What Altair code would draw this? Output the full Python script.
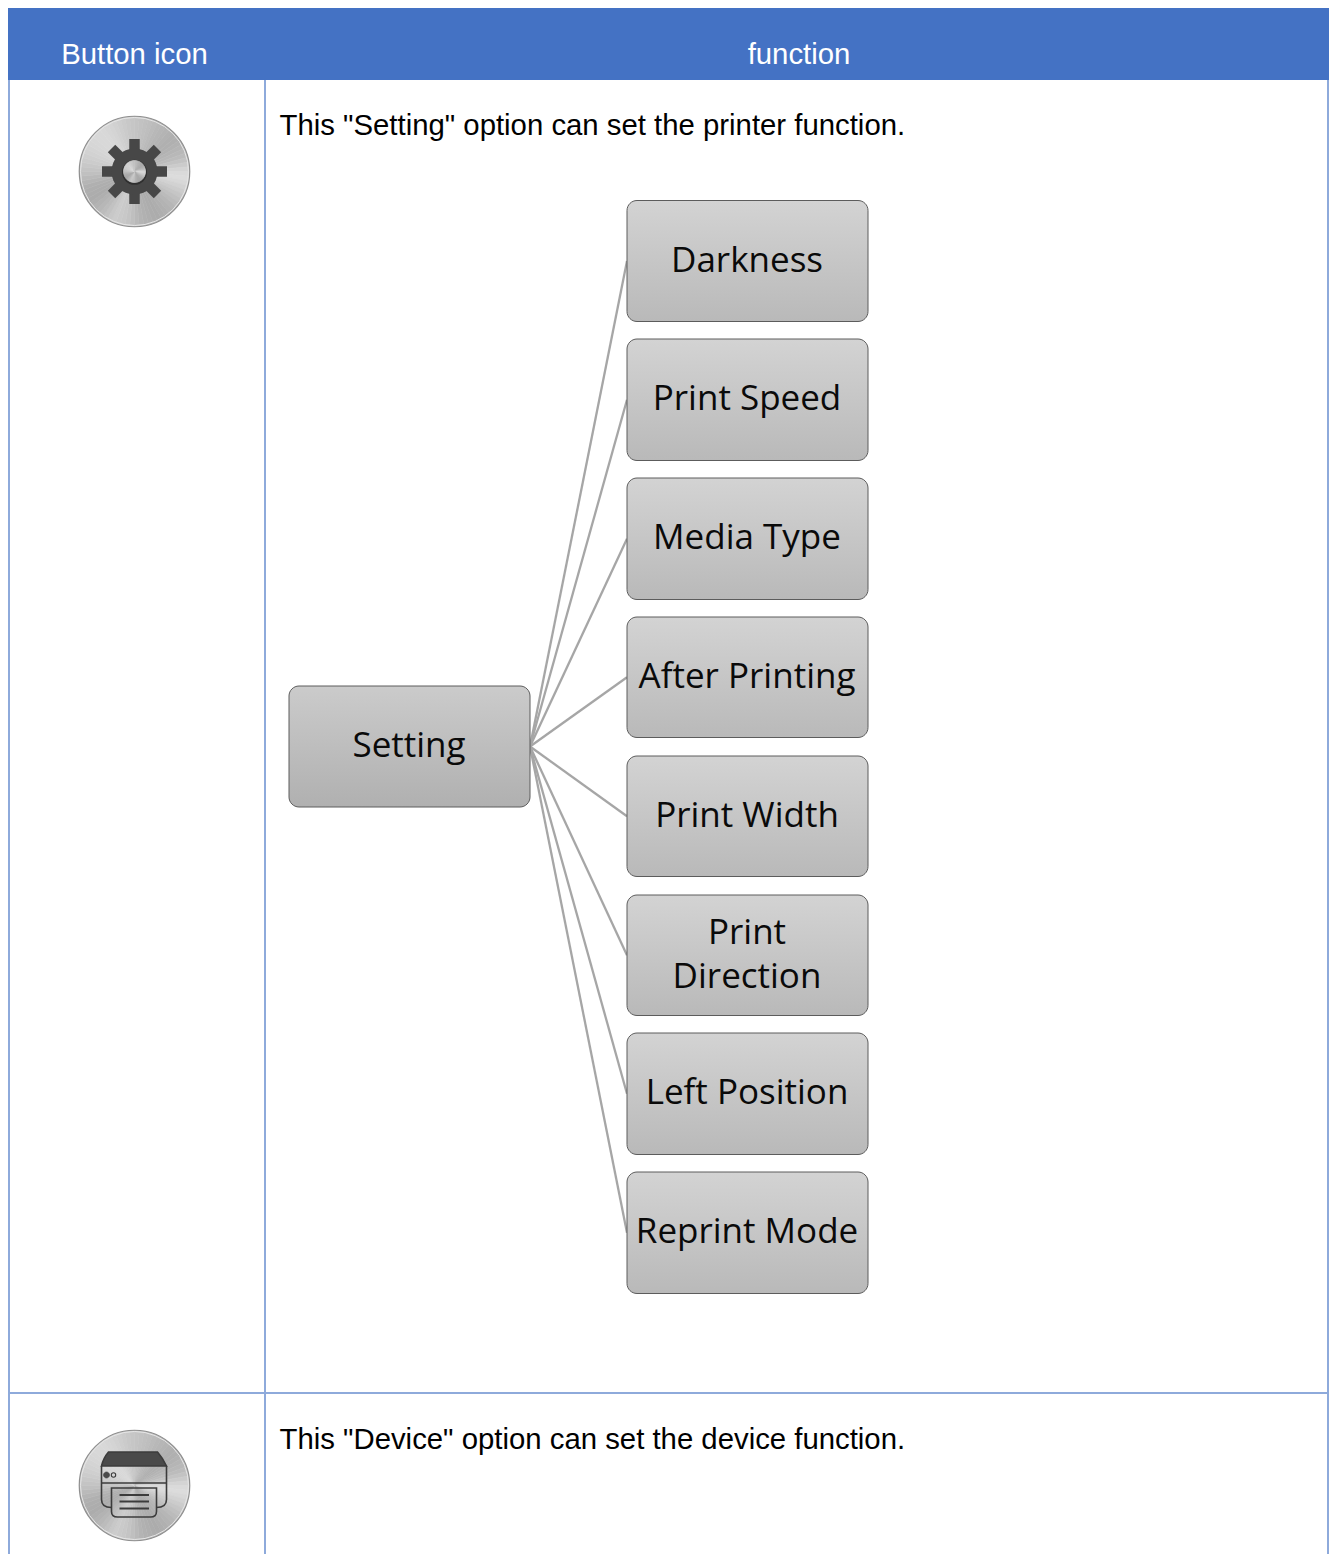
import math
import altair as alt
import pandas as pd

# --- content
header_labels = ["Button icon", "function"]
header_x = [134.5, 799]
body_labels = ['This "Setting" option can set the printer function.',
               'This "Device" option can set the device function.']
body_baselines = [135, 1449]
child_names = ["Darkness", "Print Speed", "Media Type", "After Printing",
               "Print Width", "Print\nDirection", "Left Position", "Reprint Mode"]
child_tops = [200.5, 339, 478, 617, 756, 895, 1033, 1172]
child_bottoms = [321.5, 460.5, 599.5, 737.5, 876.5, 1015.5, 1154.5, 1293.5]
root_name = "Setting"
root_box = (289, 530, 686, 807)
child_x = (627, 868)
disc_centres_y = [171.5, 1485.5]
disc_x = 134.5
metal_hex = ("c4 c2 c0 be bb b8 b6 b4 b2 b0 b0 b2 b5 b8 bc c3 cb d4 da dc d8 d2 cc c6 "
             "c0 bb b6 b3 b0 ae ac ad af b1 b4 b9 bf c4 c8 ca cc c8 c2 bc b7 b3 af ac "
             "ad ae b0 b5 ba c0 c4 c8 cc cf d2 d4 d6 d7 d8 d8 d8 d6 d4 d1 ce cb c8 c6").split()
metal_greys = ["#" + h * 3 for h in metal_hex]
gear_angles = [0, 45, 90, 135]
printer_line_offsets = [9.5, 16, 23]

# --- scales map the reference's pixel grid onto the plot
W, H = 1321, 1546
X = alt.Scale(domain=[8, 1329], range=[0, W])
Y = alt.Scale(domain=[8, 1554], range=[0, H])
xq = lambda f: alt.X(f, type="quantitative", scale=X, axis=None)
yq = lambda f: alt.Y(f, type="quantitative", scale=Y, axis=None)

BLUE = "#4472C4"
GRID = "#8EAADB"
INK = "#474747"

# --- table
header = alt.Chart(pd.DataFrame([{"x": 8, "x2": 1329, "y": 8, "y2": 80}])).mark_rect(
    color=BLUE).encode(x=xq("x"), x2="x2", y=yq("y"), y2="y2")
vrules = alt.Chart(pd.DataFrame({"x": [9, 265, 1328], "y": [80] * 3, "y2": [1554] * 3})).mark_rule(
    color=GRID, strokeWidth=2).encode(x=xq("x"), y=yq("y"), y2="y2")
hrule = alt.Chart(pd.DataFrame([{"x": 8, "x2": 1329, "y": 1393}])).mark_rule(
    color=GRID, strokeWidth=2).encode(x=xq("x"), x2="x2", y=yq("y"))
header_text = alt.Chart(pd.DataFrame({"t": header_labels, "x": header_x, "y": [64, 64]})).mark_text(
    font="Liberation Sans", fontSize=29.33, color="white", align="center", baseline="alphabetic"
).encode(x=xq("x"), y=yq("y"), text="t:N")
body_text = alt.Chart(pd.DataFrame({"t": body_labels, "x": [279.5, 279.5], "y": body_baselines})).mark_text(
    font="Liberation Sans", fontSize=29.33, color="black", align="left", baseline="alphabetic"
).encode(x=xq("x"), y=yq("y"), text="t:N")

# --- metal discs
def wedges(cy, r):
    step = 2 * math.pi / len(metal_greys)
    return pd.DataFrame([{"x": disc_x, "y": cy, "a": i * step, "b": (i + 1) * step, "c": c}
                         for i, c in enumerate(metal_greys)]).assign(r=r)

def metal(cy, r):
    return alt.Chart(wedges(cy, r)).mark_arc(radius=r, strokeWidth=0.6).encode(
        x=xq("x"), y=yq("y"),
        theta=alt.Theta("a:Q", scale=None, stack=None), theta2="b:Q",
        fill=alt.Fill("c:N", scale=None, legend=None),
        stroke=alt.Stroke("c:N", scale=None, legend=None))

def ring(cy, d, colour, width, fill=None):
    kw = {"fill": fill, "fillOpacity": 1} if fill else {"fillOpacity": 0}
    return alt.Chart(pd.DataFrame({"x": [disc_x], "y": [cy]})).mark_point(
        shape="circle", size=d * d, stroke=colour, strokeWidth=width, opacity=1, **kw
    ).encode(x=xq("x"), y=yq("y"))

discs = []
for cy in disc_centres_y:
    discs += [metal(cy, 55), ring(cy, 110.5, "#8f8f8f", 1.2), ring(cy, 108, "#e6e6e6", 1)]

# --- gear
gy = disc_centres_y[0]
teeth = pd.DataFrame([{
    "x": disc_x - 32.5 * math.cos(math.radians(a)), "x2": disc_x + 32.5 * math.cos(math.radians(a)),
    "y": gy - 32.5 * math.sin(math.radians(a)), "y2": gy + 32.5 * math.sin(math.radians(a))}
    for a in gear_angles])
gear = [
    alt.Chart(teeth).mark_rule(color=INK, strokeWidth=10.5).encode(
        x=xq("x"), x2="x2", y=yq("y"), y2="y2"),
    ring(gy, 46, INK, 0, fill=INK),
    ring(gy + 0.8, 25, "#2f2f2f", 0, fill="#2f2f2f"),
    metal(gy, 11),
]

# --- printer (glyph outlines in px around the disc centre; size=4 gives 1 unit = 1 px)
py = disc_centres_y[1]
def glyph(path, fill=None, width=1.6, stroke="#3c3c3c"):
    kw = {"fill": fill, "fillOpacity": 1} if fill else {"fillOpacity": 0}
    return alt.Chart(pd.DataFrame({"x": [disc_x], "y": [py]})).mark_point(
        shape=path, size=4, stroke=stroke, strokeWidth=width, opacity=1, **kw
    ).encode(x=xq("x"), y=yq("y"))

printer = [
    glyph("M-33,-19.5 C-32,-24 -29,-30 -26,-33.5 L23,-33.5 C26,-30 30,-24 32,-19.5 Z", fill="#4a4a4a"),
    glyph("M-33,-19.5 L-33,14 Q-33,22 -23,22 M32,-19.5 L32,14 Q32,22 22,22 M-33,-2.5 L32,-2.5"),
    glyph("M-23,2.5 L22,2.5 L22,26 Q22,31.5 16,31.5 L-17,31.5 Q-23,31.5 -23,26 Z"),
    glyph("M-15,%s L14.5,%s M-15,%s L14.5,%s M-15,%s L14.5,%s" % tuple(
        v for o in printer_line_offsets for v in (o, o)), width=1.8),
    glyph("M-31,-10.5 A3,3 0 1 1 -25,-10.5 A3,3 0 1 1 -31,-10.5 Z", fill="#4a4a4a", width=0.6),
    glyph("M-23.2,-10.5 A2.2,2.2 0 1 1 -18.8,-10.5 A2.2,2.2 0 1 1 -23.2,-10.5 Z", width=1.1),
]

# --- organisation chart
root_mid = (root_box[2] + root_box[3]) / 2
child_mid = [(a + b) / 2 for a, b in zip(child_tops, child_bottoms)]
links = alt.Chart(pd.DataFrame({"x": root_box[1], "y": root_mid, "x2": child_x[0], "y2": child_mid})).mark_rule(
    color="#a6a6a6", strokeWidth=2.3).encode(x=xq("x"), x2="x2", y=yq("y"), y2="y2")

def gradient(top, bottom):
    return alt.LinearGradient(gradient="linear", x1=0, x2=0, y1=0, y2=1,
                              stops=[alt.GradientStop(offset=0, color=top),
                                     alt.GradientStop(offset=1, color=bottom)])

def boxes(df, top, bottom):
    return alt.Chart(df).mark_rect(
        fill=gradient(top, bottom), stroke="#5c5c5c", strokeWidth=1, cornerRadius=10
    ).encode(x=xq("x"), x2="x2", y=yq("y"), y2="y2")

child_boxes = boxes(pd.DataFrame({"x": child_x[0], "x2": child_x[1], "y": child_tops, "y2": child_bottoms}),
                    "#d3d3d3", "#b9b9b9")
root_boxes = boxes(pd.DataFrame([{"x": root_box[0], "x2": root_box[1], "y": root_box[2], "y2": root_box[3]}]),
                   "#cbcbcb", "#b0b0b0")

rows = []
for name, m in zip(child_names, child_mid):
    parts = name.split("\n")
    for i, part in enumerate(parts):
        rows.append({"t": part, "x": 747, "y": m + 10.7 + (i - (len(parts) - 1) / 2) * 44})
rows.append({"t": root_name, "x": 409, "y": root_mid + 10.7})
box_text = alt.Chart(pd.DataFrame(rows)).mark_text(
    font="Open Sans", fontSize=35, color="#0a0a0a", align="center", baseline="alphabetic"
).encode(x=xq("x"), y=yq("y"), text="t:N")

chart = alt.layer(
    header, vrules, hrule, header_text, body_text, *discs, *gear, *printer,
    links, child_boxes, root_boxes, box_text
).properties(width=W, height=H, padding=0, background="white",
             autosize=alt.AutoSizeParams(type="none")).configure_view(strokeWidth=0)

chart.save("out.html", embed_options={"renderer": "svg", "actions": False})
